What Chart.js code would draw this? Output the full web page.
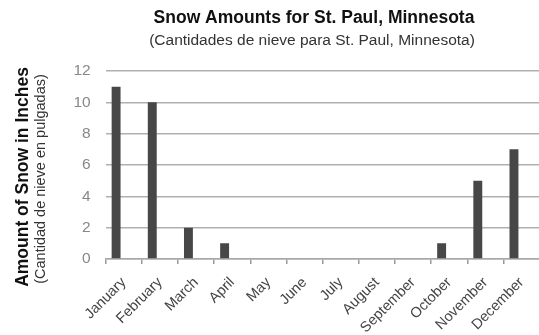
<!DOCTYPE html>
<html>
<head>
<meta charset="utf-8">
<script src="https://cdn.jsdelivr.net/npm/chart.js@4"></script>
<style>
    html, body {margin: 0; padding: 0; overflow: hidden; background: #fff;}
    #wrap {width: 544px; height: 335px; position: relative;}
</style>
</head>
<body>
<div id="wrap"><canvas id="snowChart"></canvas></div>
<script>
// ═══════════════════ DATA ═══════════════════

const months = ['January', 'February', 'March', 'April', 'May', 'June', 'July', 'August', 'September', 'October', 'November', 'December'];
const snowInches = [11, 10, 2, 1, 0, 0, 0, 0, 0, 1, 5, 7];
// empty second series, keeps the bars left of each category centre
const blankSeries = months.map(() => null);
const yTicks = [0, 2, 4, 6, 8, 10, 12];

const titleText = 'Snow Amounts for St. Paul, Minnesota';
const subtitleText = '(Cantidades de nieve para St. Paul, Minnesota)';
const yTitleText = 'Amount of Snow in Inches';
const ySubtitleText = '(Cantidad de nieve en pulgadas)';

const FONT = '"Liberation Sans", Arial, sans-serif';

// header and rotated y titles drawn straight on the canvas
const headings = {
    id: 'headings',
    afterDraw(chart) {
        const ctx = chart.ctx;
        ctx.save();
        ctx.textAlign = 'center';
        ctx.textBaseline = 'alphabetic';
        ctx.fillStyle = '#111';
        ctx.font = 'bold 17.5px ' + FONT;
        ctx.fillText(titleText, 314, 23);
        ctx.fillStyle = '#333';
        ctx.font = '15.5px ' + FONT;
        ctx.fillText(subtitleText, 312, 45);

        ctx.translate(0, 177);
        ctx.rotate(-Math.PI / 2);
        ctx.fillStyle = '#111';
        ctx.font = 'bold 17.5px ' + FONT;
        ctx.fillText(yTitleText, 0, 28);
        ctx.fillStyle = '#333';
        ctx.font = '14.5px ' + FONT;
        ctx.fillText(ySubtitleText, -2, 45);
        ctx.restore();
    }
};

new Chart(document.getElementById('snowChart'), {
    type: 'bar',
    data: {
        labels: months,
        datasets: [{
            label: 'Snow',
            data: snowInches,
            backgroundColor: '#474747',
            borderWidth: 0,
            barPercentage: 0.58,
            categoryPercentage: 0.85,
        }, {
            label: '',
            data: blankSeries,
            backgroundColor: 'rgba(0,0,0,0)',
            barPercentage: 0.58,
            categoryPercentage: 0.85,
        }]
    },
    options: {
        responsive: true,
        maintainAspectRatio: false,
        animation: false,
        layout: {padding: {top: 71, right: 1, left: 0, bottom: 0}},
        plugins: {legend: {display: false}, tooltip: {enabled: false}},
        scales: {
            x: {
                offset: true,
                grid: {offset: true, drawOnChartArea: false, drawTicks: true, tickLength: 5, color: '#9a9a9a', lineWidth: 1.5},
                border: {display: true, color: '#a8a8a8', width: 1.5},
                ticks: {color: '#444', font: {family: FONT, size: 14.5}, minRotation: 45, maxRotation: 45, padding: 10, autoSkip: false},
                afterFit(scale) { scale.height = 76; }
            },
            y: {
                min: 0,
                max: 12,
                afterBuildTicks(scale) { scale.ticks = yTicks.map(v => ({value: v})); },
                grid: {drawTicks: false, color: '#b0b0b0', lineWidth: 1.5},
                border: {display: false},
                ticks: {color: '#888', font: {family: FONT, size: 15.5}, padding: 15},
                afterFit(scale) { scale.width = 105.7; }
            }
        }
    },
    plugins: [headings]
});
</script>
</body>
</html>
